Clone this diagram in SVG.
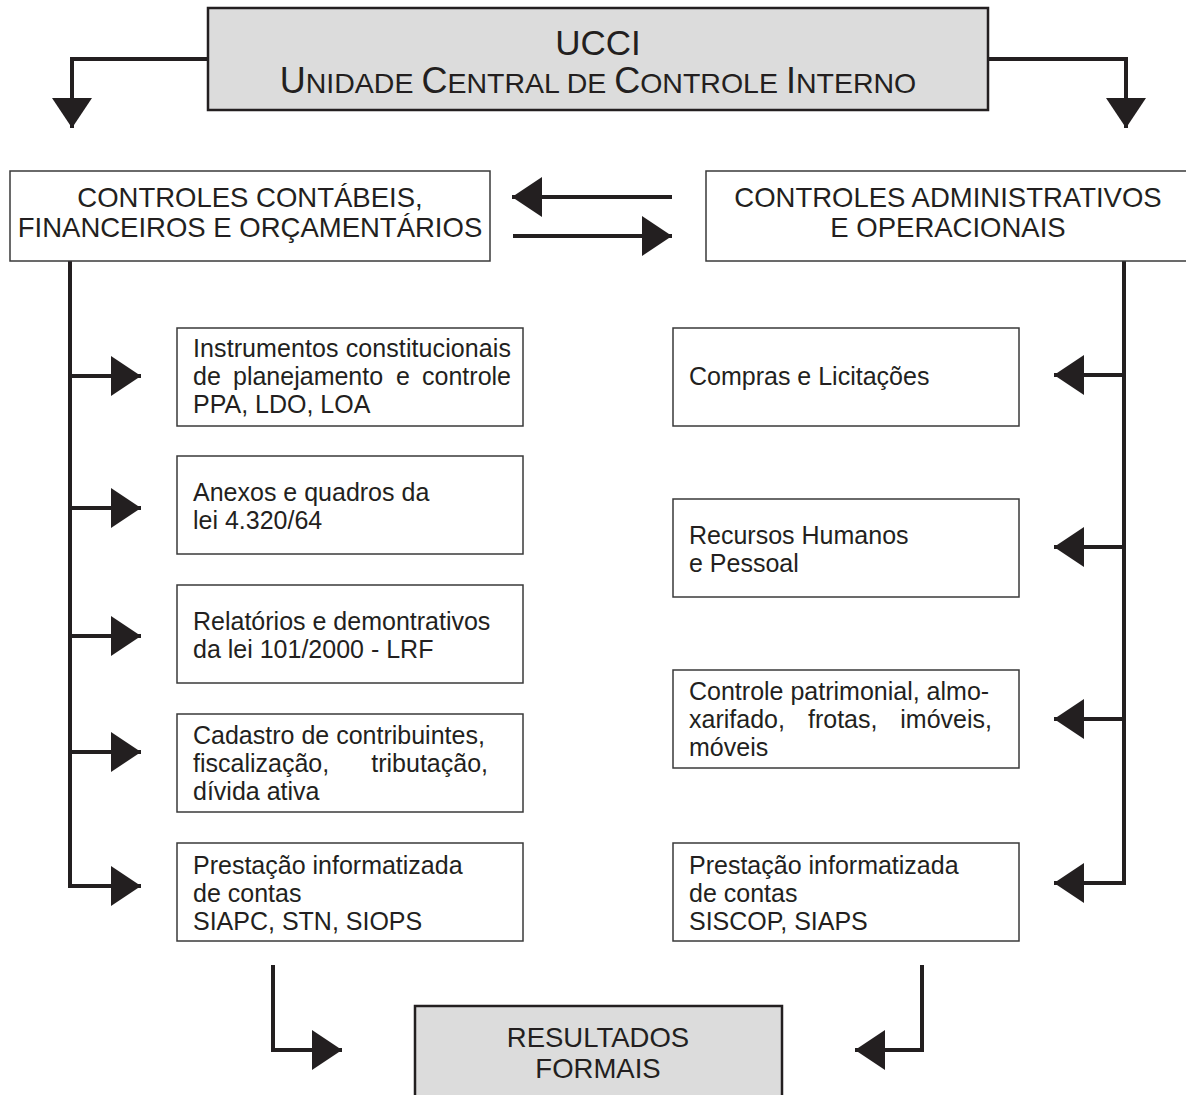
<svg xmlns="http://www.w3.org/2000/svg" width="1186" height="1095" viewBox="0 0 1186 1095">
<style>
  text { font-family: "Liberation Sans", Arial, sans-serif; fill: #231f20; }
  .box { fill: #ffffff; stroke: #3a3a3a; stroke-width: 1.5; }
  .gbox { fill: #dcdcdc; stroke: #231f20; stroke-width: 2.5; }
  .hdr { font-size: 27.5px; text-anchor: middle; }
  .t { font-size: 25px; }
  .end { text-anchor: end; }
  .con { fill: none; stroke: #231f20; stroke-width: 4; marker-end: url(#ah); }
  .line { fill: none; stroke: #231f20; stroke-width: 4; }
</style>
<defs>
  <marker id="ah" markerUnits="userSpaceOnUse" markerWidth="30" markerHeight="40" refX="30" refY="20" orient="auto" viewBox="0 0 30 40">
    <path d="M0,0 L30,20 L0,40 Z" fill="#231f20"/>
  </marker>
</defs>

<g id="connectors">
  <path class="con" d="M208,59 H72 V128"/>
  <path class="con" d="M988,59 H1126 V128"/>
  <path class="con" d="M672,197 H512"/>
  <path class="con" d="M513,236 H672"/>
  <path class="line" d="M70,261 V886"/>
  <path class="con" d="M70,376 H141"/>
  <path class="con" d="M70,508 H141"/>
  <path class="con" d="M70,636 H141"/>
  <path class="con" d="M70,752 H141"/>
  <path class="con" d="M68,886 H141"/>
  <path class="line" d="M1124,261 V885"/>
  <path class="con" d="M1124,375 H1054"/>
  <path class="con" d="M1124,547 H1054"/>
  <path class="con" d="M1124,719 H1054"/>
  <path class="con" d="M1126,883 H1054"/>
  <path class="con" d="M273,965 V1050 H342"/>
  <path class="con" d="M922,965 V1050 H855"/>
</g>

<g id="ucci">
  <rect class="gbox" x="208" y="8" width="780" height="102"/>
  <text x="598" y="55" style="font-size:35px;text-anchor:middle">UCCI</text>
  <text x="598" y="93" style="font-size:28.5px;text-anchor:middle"><tspan style="font-size:36px">U</tspan>NIDADE <tspan style="font-size:36px">C</tspan>ENTRAL DE <tspan style="font-size:36px">C</tspan>ONTROLE <tspan style="font-size:36px">I</tspan>NTERNO</text>
</g>

<g id="contabeis">
  <rect class="box" x="10" y="171" width="480" height="90"/>
  <text class="hdr" x="250" y="207">CONTROLES CONTÁBEIS,</text>
  <text class="hdr" x="250" y="237">FINANCEIROS E ORÇAMENTÁRIOS</text>
</g>

<g id="administrativos">
  <rect class="box" x="706" y="171" width="486" height="90"/>
  <text class="hdr" x="948" y="207">CONTROLES ADMINISTRATIVOS</text>
  <text class="hdr" x="948" y="237">E OPERACIONAIS</text>
</g>

<g id="l1">
  <rect class="box" x="177" y="328" width="346" height="98"/>
  <text class="t" x="193" y="357" textLength="318" lengthAdjust="spacing">Instrumentos constitucionais</text>
  <text class="t" y="385"><tspan x="193">de</tspan> <tspan x="233">planejamento</tspan> <tspan x="396">e</tspan></text>
  <text class="t end" x="511" y="385">controle</text>
  <text class="t" x="193" y="413">PPA, LDO, LOA</text>
</g>
<g id="l2">
  <rect class="box" x="177" y="456" width="346" height="98"/>
  <text class="t" x="193" y="501">Anexos e quadros da</text>
  <text class="t" x="193" y="529">lei 4.320/64</text>
</g>
<g id="l3">
  <rect class="box" x="177" y="585" width="346" height="98"/>
  <text class="t" x="193" y="630">Relatórios e demontrativos</text>
  <text class="t" x="193" y="658">da lei 101/2000 - LRF</text>
</g>
<g id="l4">
  <rect class="box" x="177" y="714" width="346" height="98"/>
  <text class="t" x="193" y="744">Cadastro de contribuintes,</text>
  <text class="t" x="193" y="772">fiscalização,</text>
  <text class="t end" x="488" y="772">tributação,</text>
  <text class="t" x="193" y="800">dívida ativa</text>
</g>
<g id="l5">
  <rect class="box" x="177" y="843" width="346" height="98"/>
  <text class="t" x="193" y="874">Prestação informatizada</text>
  <text class="t" x="193" y="902">de contas</text>
  <text class="t" x="193" y="930">SIAPC, STN, SIOPS</text>
</g>

<g id="r1">
  <rect class="box" x="673" y="328" width="346" height="98"/>
  <text class="t" x="689" y="385">Compras e Licitações</text>
</g>
<g id="r2">
  <rect class="box" x="673" y="499" width="346" height="98"/>
  <text class="t" x="689" y="544">Recursos Humanos</text>
  <text class="t" x="689" y="572">e Pessoal</text>
</g>
<g id="r3">
  <rect class="box" x="673" y="670" width="346" height="98"/>
  <text class="t" x="689" y="700">Controle patrimonial, almo-</text>
  <text class="t" y="728"><tspan x="689">xarifado,</tspan> <tspan x="808">frotas,</tspan></text>
  <text class="t end" x="992" y="728">imóveis,</text>
  <text class="t" x="689" y="756">móveis</text>
</g>
<g id="r4">
  <rect class="box" x="673" y="843" width="346" height="98"/>
  <text class="t" x="689" y="874">Prestação informatizada</text>
  <text class="t" x="689" y="902">de contas</text>
  <text class="t" x="689" y="930">SISCOP, SIAPS</text>
</g>

<g id="resultados">
  <rect class="gbox" x="415" y="1006" width="367" height="100"/>
  <text class="hdr" x="598" y="1047">RESULTADOS</text>
  <text class="hdr" x="598" y="1078">FORMAIS</text>
</g>
</svg>
